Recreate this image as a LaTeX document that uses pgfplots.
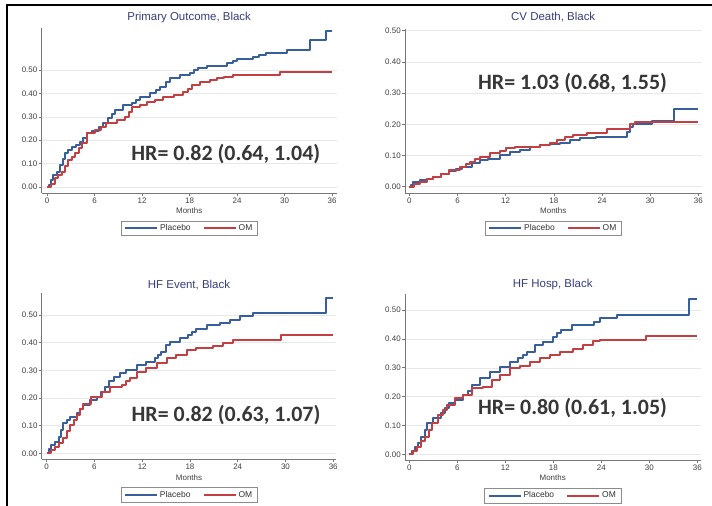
\documentclass[border=0pt]{standalone}
\usepackage{pgfplots}
\pgfplotsset{compat=1.18}
\usepackage{fontspec}
\setmainfont{Liberation Sans}
\newfontfamily\hrfont{Carlito}
\definecolor{plc}{RGB}{55,95,155}
\definecolor{omc}{RGB}{196,62,66}
\definecolor{ttl}{RGB}{55,62,125}
\definecolor{axc}{RGB}{120,120,120}
\definecolor{hrc}{RGB}{55,55,55}
\pgfplotsset{
  km/.style={
    scale only axis,
    axis x line=bottom, axis y line=left,
    axis line style={-, axc, line width=0.7bp},
    tick align=outside, major tick length=3bp,
    tick style={axc, line width=0.6bp},
    xtick={0,6,12,18,24,30,36},
    ytick={0,0.1,0.2,0.3,0.4,0.5},
    ymajorgrids, grid style={black!9, line width=0.5bp},
    /pgf/number format/assume math mode=true,
    ticklabel style={font=\fontsize{8}{9}\selectfont, text=black!75},
    yticklabel style={/pgf/number format/fixed, /pgf/number format/fixed zerofill, /pgf/number format/precision=2, /pgf/number format/assume math mode=true, inner xsep=1bp},
    xticklabel style={inner ysep=1.5bp},
    xlabel={Months},
    xlabel style={font=\fontsize{8}{9}\selectfont, text=black!75, at={(axis description cs:0.5,0)}, anchor=center, yshift=-18bp},
    legend style={at={(axis description cs:0.5,0)}, anchor=center, yshift=-35.5bp,
      legend columns=2, draw=black!45, line width=0.6bp,
      font=\fontsize{8.5}{9}\selectfont, text=black!80,
      inner xsep=3bp, inner ysep=1.5bp,
      /tikz/every even column/.append style={column sep=10bp}},
    legend image code/.code={\draw[##1, line width=2bp] (0bp,0bp) -- (32bp,0bp);},
  },
  pl/.style={plc, const plot, line width=2bp, line join=round, no marks},
  om/.style={omc, const plot, line width=2bp, line join=round, no marks},
}
\begin{document}
\begin{tikzpicture}
\useasboundingbox (0,0) rectangle (712bp,-506bp);
\fill[white] (0,0) rectangle (712bp,-506bp);
\draw[line width=1.4bp, black] (712bp,-5bp) -- (7bp,-5bp) -- (7bp,-506bp);

% Panel 1: Primary Outcome
\begin{axis}[km, at={(41.5bp,-192.9bp)}, anchor=south west,
  width=295.4bp, height=165bp, xmin=-0.7, xmax=36.6, ymin=-0.025, ymax=0.68]
\addplot[pl] coordinates {(0,0) (0.2,0.01) (0.5,0.03) (0.8,0.05) (1.2,0.065) (1.6,0.094) (2.0,0.12) (2.3,0.144) (2.7,0.16) (3.1,0.172) (3.6,0.18) (4.2,0.194) (4.6,0.21) (5.0,0.23) (5.7,0.24) (6.5,0.258) (7.1,0.275) (7.7,0.293) (8.2,0.31) (8.6,0.33) (9.6,0.35) (10.7,0.357) (11.2,0.372) (11.7,0.386) (13,0.40) (13.7,0.415) (14.3,0.429) (15,0.45) (15.5,0.464) (16.8,0.479) (18.1,0.486) (18.6,0.50) (19.1,0.507) (20.2,0.519) (22.7,0.528) (23.5,0.54) (24,0.547) (26,0.557) (26.8,0.565) (27.7,0.571) (30.3,0.585) (33.2,0.628) (35.2,0.667) (36,0.667)};
\addlegendentry{Placebo}
\addplot[om] coordinates {(0,0) (0.5,0.015) (1,0.037) (1.4,0.05) (1.85,0.065) (2.3,0.09) (2.7,0.115) (3.1,0.13) (3.5,0.144) (4,0.165) (4.4,0.187) (5,0.23) (6.1,0.244) (6.8,0.258) (7.5,0.272) (8.8,0.286) (9.9,0.30) (10.3,0.32) (10.7,0.343) (11.7,0.35) (12.6,0.365) (13.6,0.372) (14.7,0.386) (16,0.393) (17.2,0.407) (17.8,0.42) (18.3,0.436) (19.3,0.447) (20.6,0.457) (21.5,0.465) (22.3,0.472) (23.5,0.479) (29.4,0.493) (36,0.493)};
\addlegendentry{OM}
\end{axis}

% Panel 2: CV Death
\begin{axis}[km, at={(404.9bp,-192.9bp)}, anchor=south west,
  width=296.7bp, height=163.8bp, xmin=-0.55, xmax=36.4, ymin=-0.02, ymax=0.505]
\addplot[pl] coordinates {(0,0) (0.2,0.005) (0.5,0.016) (1.3,0.021) (2.2,0.026) (3,0.032) (4,0.04) (5,0.05) (5.8,0.057) (6.5,0.064) (7.8,0.075) (8.8,0.085) (9.8,0.09) (11.3,0.10) (12.5,0.112) (13.8,0.117) (15,0.128) (16.3,0.133) (17.5,0.136) (18.8,0.141) (20,0.15) (21.3,0.155) (23.3,0.16) (27.1,0.176) (27.5,0.192) (27.9,0.2) (30.2,0.21) (33,0.249) (36,0.249)};
\addlegendentry{Placebo}
\addplot[om] coordinates {(0,0) (0.6,0.008) (1.3,0.016) (2.2,0.024) (3,0.032) (4,0.042) (5,0.053) (6.3,0.064) (7,0.072) (7.6,0.08) (8.2,0.088) (8.8,0.096) (10,0.107) (11.3,0.114) (12.1,0.125) (13.2,0.128) (16.3,0.133) (17.5,0.139) (18.4,0.15) (19.4,0.16) (20.4,0.166) (22.1,0.171) (24.6,0.185) (27.5,0.2) (28.1,0.208) (36,0.208)};
\addlegendentry{OM}
\end{axis}

% Panel 3: HF Event
\begin{axis}[km, at={(41.7bp,-459.4bp)}, anchor=south west,
  width=294.7bp, height=166bp, xmin=-0.63, xmax=36.4, ymin=-0.022, ymax=0.578]
\addplot[pl] coordinates {(0,0) (0.3,0.015) (0.6,0.03) (1,0.04) (1.5,0.06) (1.8,0.085) (2.1,0.108) (2.5,0.12) (2.9,0.133) (3.8,0.145) (4.2,0.16) (4.6,0.175) (5.4,0.193) (6.3,0.205) (6.8,0.22) (7.3,0.24) (7.8,0.26) (8.4,0.277) (9.2,0.289) (10,0.30) (11.3,0.32) (12.5,0.33) (13.6,0.343) (14,0.355) (14.4,0.367) (15,0.39) (15.5,0.404) (16.7,0.416) (17.8,0.428) (18.3,0.44) (18.8,0.448) (20.1,0.464) (21.8,0.47) (23,0.482) (24.3,0.496) (25.9,0.506) (35.1,0.56) (36,0.56)};
\addlegendentry{Placebo}
\addplot[om] coordinates {(0,0) (0.5,0.012) (1,0.024) (1.5,0.038) (2.1,0.054) (2.5,0.08) (2.9,0.102) (3.4,0.12) (3.8,0.139) (4.2,0.16) (4.6,0.18) (5.6,0.205) (6.9,0.223) (7.9,0.24) (9.4,0.247) (10,0.26) (10.5,0.271) (11.3,0.295) (12.5,0.307) (13.8,0.325) (15.1,0.343) (16.3,0.355) (17.6,0.373) (18.8,0.38) (20.9,0.388) (22.2,0.398) (23.4,0.41) (29.5,0.428) (36,0.428)};
\addlegendentry{OM}
\end{axis}

% Panel 4: HF Hosp
\begin{axis}[km, at={(404.9bp,-460.1bp)}, anchor=south west,
  width=295.6bp, height=166.5bp, xmin=-0.55, xmax=36.4, ymin=-0.02, ymax=0.557]
\addplot[pl] coordinates {(0,0) (0.3,0.012) (0.7,0.027) (1.1,0.04) (1.5,0.06) (1.9,0.085) (2.2,0.107) (3,0.125) (4,0.142) (4.5,0.16) (4.9,0.177) (5.7,0.188) (6.75,0.205) (7.3,0.22) (7.8,0.24) (8.8,0.263) (10.1,0.286) (11.3,0.304) (12.6,0.321) (13.6,0.333) (14.2,0.345) (14.7,0.356) (15.7,0.379) (16.75,0.39) (18,0.408) (18.5,0.42) (19,0.43) (20.3,0.448) (23.1,0.46) (23.8,0.471) (25.9,0.483) (34.9,0.54) (36,0.54)};
\addlegendentry{Placebo}
\addplot[om] coordinates {(0,0) (0.4,0.012) (0.9,0.027) (1.5,0.045) (2,0.061) (2.4,0.085) (2.8,0.107) (3.6,0.136) (4.2,0.155) (4.7,0.171) (5.7,0.194) (6.75,0.205) (7.8,0.229) (9.25,0.234) (10.3,0.257) (11.3,0.275) (12.6,0.298) (13.8,0.306) (15.1,0.321) (16.3,0.333) (17.6,0.344) (18.8,0.356) (20.5,0.364) (21.75,0.379) (23,0.394) (23.8,0.396) (29.6,0.41) (36,0.41)};
\addlegendentry{OM}
\end{axis}

% Titles
\begin{scope}[every node/.style={font=\fontsize{11.5}{12}\selectfont, text=ttl, anchor=center}]
\node at (189.2bp,-18bp) {Primary Outcome, Black};
\node at (553.2bp,-17bp) {CV Death, Black};
\node at (189bp,-285bp) {HF Event, Black};
\node at (552.7bp,-285bp) {HF Hosp, Black};
\end{scope}
% HR annotations
\begin{scope}[every node/.style={font=\hrfont\bfseries\fontsize{22}{24}\selectfont, text=hrc, anchor=center, inner sep=0pt}]
\node at (225.8bp,-154bp) {HR= 0.82 (0.64, 1.04)};
\node at (572.5bp,-83bp) {HR= 1.03 (0.68, 1.55)};
\node at (226bp,-415bp) {HR= 0.82 (0.63, 1.07)};
\node at (572.5bp,-408bp) {HR= 0.80 (0.61, 1.05)};
\end{scope}
\end{tikzpicture}
\end{document}
